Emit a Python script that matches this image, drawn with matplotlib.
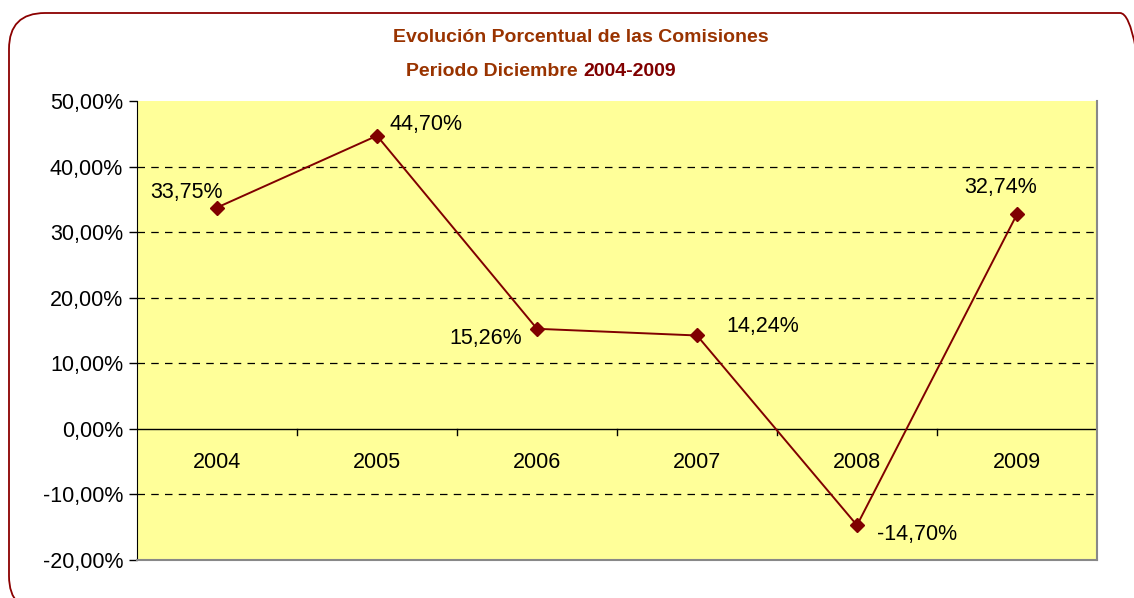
import matplotlib
matplotlib.use("Agg")
import matplotlib.pyplot as plt
from matplotlib.patches import FancyBboxPatch
from matplotlib import font_manager

years = ["2004", "2005", "2006", "2007", "2008", "2009"]
values = [33.75, 44.70, 15.26, 14.24, -14.70, 32.74]
yticks = [-20, -10, 0, 10, 20, 30, 40, 50]
# label offsets in points (dx, dy)
label_offsets = [(-22, 11), (35, 8), (-37, -7), (47, 6.5), (43, -6.5), (-12, 19)]

names = {f.name for f in font_manager.fontManager.ttflist}
narrow = "Liberation Sans Narrow" if "Liberation Sans Narrow" in names else "Liberation Sans"
plt.rcParams['font.family'] = ['Liberation Sans', 'DejaVu Sans']

W, H = 1134, 598
fig = plt.figure(figsize=(W / 100, H / 100), dpi=100)

# rounded figure border (in inches, y measured from bottom)
border = FancyBboxPatch((9 / 100, (H - 612) / 100), (1156 - 9) / 100, (612 - 13) / 100,
                        boxstyle="round,pad=0,rounding_size=0.36",
                        transform=fig.dpi_scale_trans, fill=False,
                        edgecolor="#8B0000", linewidth=1.3)
fig.patches.append(border)

ax = fig.add_axes([137 / W, 1 - 560 / H, (1097 - 137) / W, (560 - 101) / H])
ax.set_facecolor("#FFFF99")

x = list(range(len(years)))
ax.plot(x, values, color="#800000", linewidth=1.4, marker="D", markersize=7.5,
        markerfacecolor="#800000", markeredgecolor="#800000", zorder=5)

for i, v in enumerate(values):
    txt = f"{v:.2f}%".replace(".", ",")
    dx, dy = label_offsets[i]
    ax.annotate(txt, (i, v), xytext=(dx, dy), textcoords="offset points",
                ha="center", va="center", fontsize=15.5, color="black", zorder=6)

ax.set_xlim(-0.5, len(years) - 0.5)
ax.set_ylim(-20, 50)
ax.set_yticks(yticks)
ax.set_yticklabels([f"{t:.2f}%".replace(".", ",") for t in yticks], fontsize=15.5)
for t in yticks:
    if t not in (0, -20, 50):
        ax.axhline(t, color="black", linestyle=(0, (6, 5)), linewidth=0.9, zorder=1)
ax.axhline(0, color="black", linewidth=1.0, zorder=2)

# category boundary ticks on the zero axis
for b in [i + 0.5 for i in range(len(years) - 1)]:
    ax.plot([b, b], [0, -0.9], color="black", linewidth=1.0, zorder=2)
for i, yr in enumerate(years):
    ax.text(i, -5.1, yr, ha="center", va="center", fontsize=15.5)

ax.set_xticks([])
ax.tick_params(axis="y", length=6, width=1, pad=4)
ax.spines["left"].set_color("black")
ax.spines["bottom"].set_color("#888888")
ax.spines["right"].set_color("#888888")
ax.spines["top"].set_visible(False)
ax.spines["bottom"].set_linewidth(1.5)
ax.spines["right"].set_linewidth(1.5)

fig.text(581 / W, 1 - 37 / H, "Evolución Porcentual de las Comisiones",
         ha="center", va="center", fontsize=14, fontweight="bold",
         color="#993300", family=[narrow, 'DejaVu Sans'])
fig.text(583 / W, 1 - 72 / H, "Periodo Diciembre ", ha="right", va="center",
         fontsize=14, fontweight="bold", color="#993300", family=[narrow, 'DejaVu Sans'])
fig.text(583 / W, 1 - 72 / H, "2004-2009", ha="left", va="center",
         fontsize=14, fontweight="bold", color="#800000", family=[narrow, 'DejaVu Sans'])

fig.savefig("out.png", dpi=100)
